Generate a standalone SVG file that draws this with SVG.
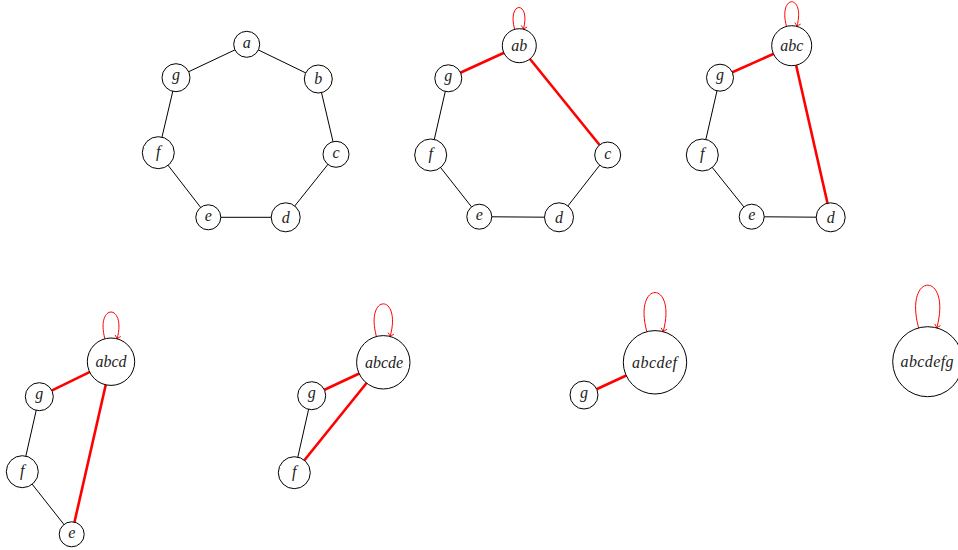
<svg xmlns="http://www.w3.org/2000/svg" width="958" height="550" viewBox="0 0 958 550">
<style>
.n{fill:#fff;stroke:#000;stroke-width:1}
.t{font-family:"Liberation Serif","Times New Roman",serif;font-style:italic;font-size:16px;fill:#222;text-anchor:middle}
.e{stroke:#000;stroke-width:1;fill:none}
.r{stroke:#f00;stroke-width:2.6;fill:none}
.l{stroke:#f00;stroke-width:1;fill:none;marker-end:url(#ar)}
</style>
<defs>
<marker id="ar" markerUnits="userSpaceOnUse" markerWidth="10" markerHeight="10" refX="0" refY="0" viewBox="-5 -5 10 10" orient="auto">
<path d="M-3.2,-3 Q-1.2,-0.8 0,0 Q-1.2,0.8 -3.2,3" fill="none" stroke="#f00" stroke-width="0.9"/>
</marker>
</defs>
<rect width="958" height="550" fill="#fff"/>
<g id="connectors">
<!-- graph 1 -->
<line class="e" x1="246.7" y1="44.3" x2="318.3" y2="79"/>
<line class="e" x1="318.3" y1="79" x2="336" y2="154.3"/>
<line class="e" x1="336" y1="154.3" x2="285.7" y2="217.3"/>
<line class="e" x1="285.7" y1="217.3" x2="208.3" y2="217.3"/>
<line class="e" x1="208.3" y1="217.3" x2="158.3" y2="152.7"/>
<line class="e" x1="158.3" y1="152.7" x2="176" y2="77.7"/>
<line class="e" x1="176" y1="77.7" x2="246.7" y2="44.3"/>
<!-- graph 2 -->
<line class="r" x1="519.3" y1="45.7" x2="448.3" y2="78.3"/>
<line class="r" x1="519.3" y1="45.7" x2="607.7" y2="155"/>
<line class="e" x1="448.3" y1="78.3" x2="430.7" y2="155"/>
<line class="e" x1="430.7" y1="155" x2="479.3" y2="216.7"/>
<line class="e" x1="479.3" y1="216.7" x2="559" y2="217.3"/>
<line class="e" x1="559" y1="217.3" x2="607.7" y2="155"/>
<path class="l" d="M514.6,29.3 C506.8,0.3 531.2,0.3 523.4,29.3"/>
<!-- graph 3 -->
<line class="r" x1="791.7" y1="45.7" x2="720" y2="77.7"/>
<line class="r" x1="791.7" y1="45.7" x2="830.7" y2="217.3"/>
<line class="e" x1="720" y1="77.7" x2="702.3" y2="155"/>
<line class="e" x1="702.3" y1="155" x2="751.7" y2="216.7"/>
<line class="e" x1="751.7" y1="216.7" x2="830.7" y2="217.3"/>
<path class="l" d="M786.5,26.4 C777.7,-6.4 805.7,-6.4 796.9,26.4"/>
<!-- graph 4 -->
<line class="r" x1="111" y1="361.7" x2="39.3" y2="396.7"/>
<line class="r" x1="111" y1="361.7" x2="71.7" y2="534.3"/>
<line class="e" x1="39.3" y1="396.7" x2="22.3" y2="471.7"/>
<line class="e" x1="22.3" y1="471.7" x2="71.7" y2="534.3"/>
<path class="l" d="M104.9,338.8 C95.3,303.1 126.7,303.1 117.1,338.8"/>
<!-- graph 5 -->
<line class="r" x1="383.3" y1="362.3" x2="311.7" y2="395.7"/>
<line class="r" x1="383.3" y1="362.3" x2="294.3" y2="472.7"/>
<line class="e" x1="311.7" y1="395.7" x2="294.3" y2="472.7"/>
<path class="l" d="M376.4,336.5 C364.7,293 401.9,293 390.2,336.5"/>
<!-- graph 6 -->
<line class="r" x1="655" y1="362.3" x2="584" y2="395"/>
<path class="l" d="M646.8,331.7 C632.8,279.5 677.2,279.5 663.2,331.7"/>
<!-- graph 7 -->
<path class="l" d="M918.6,327.9 C903.3,270.9 952.1,270.9 936.8,327.9"/>
</g>
<!-- graph 1 nodes -->
<g id="g1-a"><circle class="n" cx="246.7" cy="44.3" r="13"/><text class="t" x="246.7" y="48">a</text></g>
<g id="g1-b"><circle class="n" cx="318.3" cy="79" r="14"/><text class="t" x="318.3" y="84.3">b</text></g>
<g id="g1-c"><circle class="n" cx="336" cy="154.3" r="13"/><text class="t" x="336" y="158">c</text></g>
<g id="g1-d"><circle class="n" cx="285.7" cy="217.3" r="14.5"/><text class="t" x="285.7" y="222.6">d</text></g>
<g id="g1-e"><circle class="n" cx="208.3" cy="217.3" r="12.5"/><text class="t" x="208.3" y="221">e</text></g>
<g id="g1-f"><circle class="n" cx="158.3" cy="152.7" r="16"/><text class="t" x="158.3" y="156.8">f</text></g>
<g id="g1-g"><circle class="n" cx="176" cy="77.7" r="14"/><text class="t" x="176" y="80.3">g</text></g>
<!-- graph 2 nodes -->
<g id="g2-ab"><circle class="n" cx="519.3" cy="45.7" r="17"/><text class="t" x="519.3" y="51">ab</text></g>
<g id="g2-g"><circle class="n" cx="448.3" cy="78.3" r="13.5"/><text class="t" x="448.3" y="80.9">g</text></g>
<g id="g2-f"><circle class="n" cx="430.7" cy="155" r="16"/><text class="t" x="430.7" y="159.1">f</text></g>
<g id="g2-e"><circle class="n" cx="479.3" cy="216.7" r="12.5"/><text class="t" x="479.3" y="220.4">e</text></g>
<g id="g2-d"><circle class="n" cx="559" cy="217.3" r="14.5"/><text class="t" x="559" y="222.6">d</text></g>
<g id="g2-c"><circle class="n" cx="607.7" cy="155" r="13"/><text class="t" x="607.7" y="158.7">c</text></g>
<!-- graph 3 nodes -->
<g id="g3-abc"><circle class="n" cx="791.7" cy="45.7" r="20"/><text class="t" x="791.7" y="51">abc</text></g>
<g id="g3-g"><circle class="n" cx="720" cy="77.7" r="13.5"/><text class="t" x="720" y="80.3">g</text></g>
<g id="g3-f"><circle class="n" cx="702.3" cy="155" r="16"/><text class="t" x="702.3" y="159.1">f</text></g>
<g id="g3-e"><circle class="n" cx="751.7" cy="216.7" r="12.5"/><text class="t" x="751.7" y="220.4">e</text></g>
<g id="g3-d"><circle class="n" cx="830.7" cy="217.3" r="14.5"/><text class="t" x="830.7" y="222.6">d</text></g>
<!-- graph 4 nodes -->
<g id="g4-abcd"><circle class="n" cx="111" cy="361.7" r="23.7"/><text class="t" x="111" y="367">abcd</text></g>
<g id="g4-g"><circle class="n" cx="39.3" cy="396.7" r="14"/><text class="t" x="39.3" y="399.3">g</text></g>
<g id="g4-f"><circle class="n" cx="22.3" cy="471.7" r="16"/><text class="t" x="22.3" y="475.8">f</text></g>
<g id="g4-e"><circle class="n" cx="71.7" cy="534.3" r="12.5"/><text class="t" x="71.7" y="538">e</text></g>
<!-- graph 5 nodes -->
<g id="g5-abcde"><circle class="n" cx="383.3" cy="362.3" r="26.7"/><text class="t" x="384" y="367.7">abcde</text></g>
<g id="g5-g"><circle class="n" cx="311.7" cy="395.7" r="14"/><text class="t" x="311.7" y="398.3">g</text></g>
<g id="g5-f"><circle class="n" cx="294.3" cy="472.7" r="16"/><text class="t" x="294.3" y="476.8">f</text></g>
<!-- graph 6 nodes -->
<g id="g6-abcdef"><circle class="n" cx="655" cy="362.3" r="31.7"/><text class="t" x="654.5" y="367.5" textLength="45" lengthAdjust="spacing">abcdef</text></g>
<g id="g6-g"><circle class="n" cx="584" cy="395" r="14"/><text class="t" x="584" y="397.6">g</text></g>
<!-- graph 7 node -->
<g id="g7-abcdefg"><circle class="n" cx="927.7" cy="361.7" r="35"/><text class="t" x="927" y="366.8" textLength="53" lengthAdjust="spacing">abcdefg</text></g>
</svg>
